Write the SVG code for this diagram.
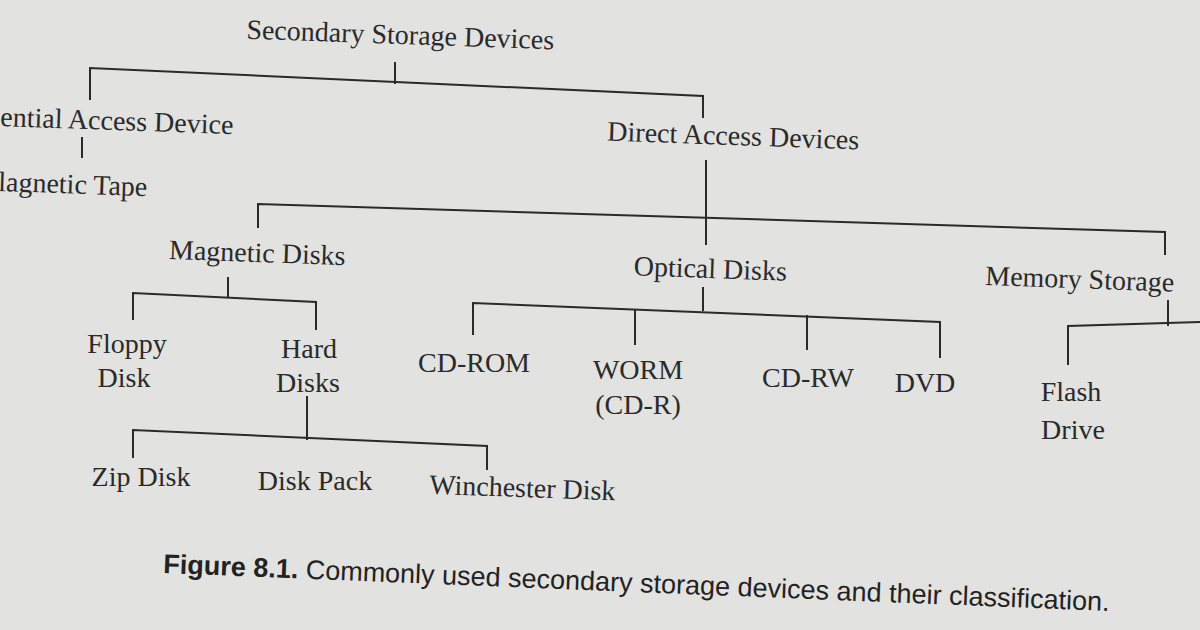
<svg xmlns="http://www.w3.org/2000/svg" width="1200" height="630" viewBox="0 0 1200 630">
<style>
text{font-family:"Liberation Serif",serif;font-size:28px;fill:#2a2a2a;text-anchor:middle}
.s{text-anchor:start}
.c{font-family:"Liberation Sans",sans-serif;font-size:27px;text-anchor:start;fill:#222}
line,polyline{stroke:#2a2a2a;stroke-width:2;fill:none}
</style>
<rect width="1200" height="630" fill="#e2e2e0"/>
<g id="connectors">
<line x1="395" y1="62" x2="395" y2="84"/>
<polyline points="90,100 90,68 703,96 703,118"/>
<line x1="82" y1="137" x2="82" y2="158"/>
<line x1="706" y1="160" x2="706" y2="245"/>
<polyline points="258,228 258,204 1165,232 1165,255"/>
<line x1="228" y1="277" x2="228" y2="298"/>
<polyline points="133,320 133,293 316,302 316,330"/>
<line x1="307" y1="396" x2="307" y2="440"/>
<polyline points="133,458 133,430 487,446 487,470"/>
<line x1="703" y1="287" x2="703" y2="311"/>
<polyline points="473,335 473,303 940,322 940,358"/>
<line x1="635" y1="310" x2="635" y2="345"/>
<line x1="807" y1="315" x2="807" y2="350"/>
<line x1="1168" y1="300" x2="1168" y2="326"/>
<polyline points="1068,365 1068,326 1200,322"/>
</g>
<g id="n-root"><text x="400" y="44" transform="rotate(2 400 44)">Secondary Storage Devices</text></g>
<g id="n-seq"><text class="s" x="0" y="126" transform="rotate(2 0 126)">ential Access Device</text></g>
<g id="n-tape"><text class="s" x="-2" y="191" transform="rotate(2 0 191)">lagnetic Tape</text></g>
<g id="n-direct"><text x="733" y="145" transform="rotate(2 733 145)">Direct Access Devices</text></g>
<g id="n-magdisk"><text x="257" y="262" transform="rotate(2 257 262)">Magnetic Disks</text></g>
<g id="n-optical"><text x="710" y="278" transform="rotate(2 710 278)">Optical Disks</text></g>
<g id="n-mem"><text class="s" x="985" y="285" transform="rotate(2 985 285)">Memory Storage</text></g>
<g id="n-floppy"><text x="127" y="353">Floppy</text><text x="124" y="387">Disk</text></g>
<g id="n-hard"><text x="309" y="358">Hard</text><text x="308" y="392">Disks</text></g>
<g id="n-zip"><text x="141" y="486">Zip Disk</text></g>
<g id="n-pack"><text x="315" y="490">Disk Pack</text></g>
<g id="n-winch"><text x="522" y="497" transform="rotate(2 522 497)">Winchester Disk</text></g>
<g id="n-cdrom"><text x="474" y="372">CD-ROM</text></g>
<g id="n-worm"><text x="638" y="379">WORM</text><text x="638" y="414">(CD-R)</text></g>
<g id="n-cdrw"><text x="808" y="387">CD-RW</text></g>
<g id="n-dvd"><text x="925" y="392">DVD</text></g>
<g id="n-flash"><text x="1071" y="401">Flash</text><text x="1073" y="439">Drive</text></g>
<text class="c" x="163" y="573" transform="rotate(2.3 163 573)"><tspan font-weight="bold">Figure 8.1.</tspan> Commonly used secondary storage devices and their classification.</text>
</svg>
